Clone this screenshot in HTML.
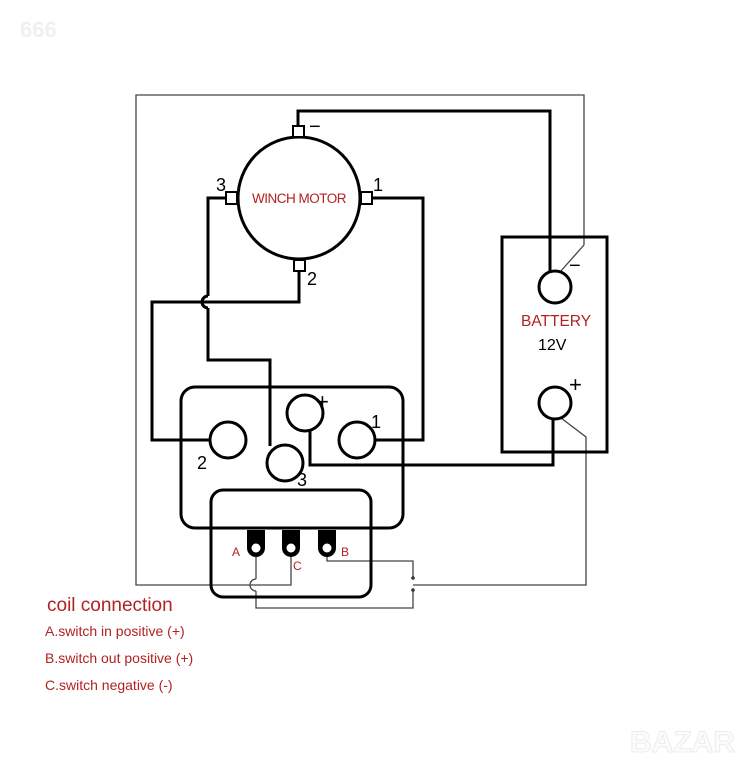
<!DOCTYPE html>
<html><head><meta charset="utf-8"><style>
html,body{margin:0;padding:0;background:#fff;}
svg{display:block;}
text{font-family:"Liberation Sans",sans-serif;}
</style></head><body>
<svg width="739" height="768" viewBox="0 0 739 768" xmlns="http://www.w3.org/2000/svg">
<rect width="739" height="768" fill="#fff"/>
<text x="20" y="37" font-size="22" font-weight="bold" fill="#eef0f3">666</text>
<text x="630" y="752" font-size="30" font-weight="bold" fill="#fcfcfc" stroke="#ececec" stroke-width="1">BAZAR</text>
<!-- outer thin frame -->
<g fill="none" stroke="#444" stroke-width="1.3">
<polyline points="584,245 584,95 136,95 136,585 291,585 291,557"/>
<polyline points="584,245 560,272"/>
<polyline points="561,418 586,437 586,585 413,585"/>
<polyline points="327,557 327,561 413,561 413,578"/>
<polyline points="413,590 413,608 256,608 256,591"/>
<path d="M256,591 a6,6 0 0 1 0,-12"/>
<polyline points="256,579 256,557"/>
</g>
<circle cx="413" cy="578" r="1.8" fill="#333"/>
<circle cx="413" cy="590" r="1.8" fill="#333"/>
<!-- thick wires -->
<g fill="none" stroke="#000" stroke-width="3">
<polyline points="298,126 298,111 550,111 550,271"/>
<polyline points="372,198 423,198 423,440 375,440"/>
<polyline points="226,198 208,198 208,296"/>
<path d="M208,296 a6,6 0 0 0 0,12"/>
<polyline points="208,308 208,360 270,360 270,446"/>
<polyline points="299,271 299,302 152,302 152,440 210,440"/>
<polyline points="310,430 310,465 553,465 553,420"/>
<!-- motor -->
<circle cx="299" cy="198" r="61" fill="#fff"/>
<rect x="293" y="126" width="11" height="11" fill="#fff" stroke-width="2"/>
<rect x="226" y="192" width="11" height="12" fill="#fff" stroke-width="2"/>
<rect x="361" y="192" width="11" height="12" fill="#fff" stroke-width="2"/>
<rect x="294" y="260" width="11" height="11" fill="#fff" stroke-width="2"/>
<!-- battery -->
<rect x="502" y="237" width="105" height="215" fill="none"/>
<circle cx="555" cy="287" r="16" fill="#fff"/>
<circle cx="555" cy="403" r="16" fill="#fff"/>
<!-- solenoid -->
<rect x="181" y="387" width="222" height="141" rx="14"/>
<rect x="211" y="490" width="160" height="107" rx="12"/>
<circle cx="305" cy="413" r="18" fill="#fff"/>
<circle cx="357" cy="440" r="18" fill="#fff"/>
<circle cx="228" cy="440" r="18" fill="#fff"/>
<circle cx="285" cy="463" r="18" fill="#fff"/>
</g>
<!-- terminals -->
<g>
<path d="M247,530 h18 v18 a9,9 0 0 1 -18,0 z" fill="#000"/>
<path d="M282,530 h18 v18 a9,9 0 0 1 -18,0 z" fill="#000"/>
<path d="M318,530 h18 v18 a9,9 0 0 1 -18,0 z" fill="#000"/>
<circle cx="256" cy="548" r="4.5" fill="#fff"/>
<circle cx="291" cy="548" r="4.5" fill="#fff"/>
<circle cx="327" cy="548" r="4.5" fill="#fff"/>
</g>
<!-- labels -->
<g fill="#000" font-size="18">
<text x="309" y="133" font-size="20">−</text>
<text x="216" y="191">3</text>
<text x="373" y="191">1</text>
<text x="307" y="285">2</text>
<text x="316" y="409" font-size="22">+</text>
<text x="371" y="428">1</text>
<text x="197" y="469">2</text>
<text x="297" y="486">3</text>
<text x="569" y="272" font-size="20">−</text>
<text x="569" y="392" font-size="22">+</text>
<text x="538" y="350" font-size="16">12V</text>
</g>
<g fill="#b22222">
<text x="299" y="203" font-size="13.5" text-anchor="middle" letter-spacing="-0.5">WINCH MOTOR</text>
<text x="521" y="326" font-size="15.5">BATTERY</text>
<text x="232" y="556" font-size="12">A</text>
<text x="293" y="570" font-size="12">C</text>
<text x="341" y="556" font-size="12">B</text>
<text x="47" y="611" font-size="19">coil connection</text>
<text x="45" y="636" font-size="14">A.switch in positive (+)</text>
<text x="45" y="663" font-size="14">B.switch out positive (+)</text>
<text x="45" y="690" font-size="14">C.switch negative (-)</text>
</g>
</svg>
</body></html>
